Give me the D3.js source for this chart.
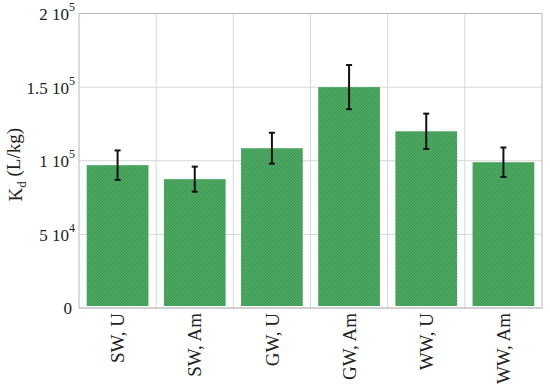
<!DOCTYPE html>
<html>
<head>
<meta charset="utf-8">
<script src="https://cdn.jsdelivr.net/npm/d3@7"></script>
<style>
  body { margin: 0; background: #fff; }
  svg text { font-family: "Liberation Serif", "Times New Roman", serif; fill: #222; }
</style>
</head>
<body>
<div id="chart"></div>
<script>
var categories = ["SW, U", "SW, Am", "GW, U", "GW, Am", "WW, U", "WW, Am"];
var values = [97000, 87500, 108500, 150000, 120000, 99000];
var errors = [10000, 8500, 10500, 15000, 12000, 10000];
var yTicks = [0, 50000, 100000, 150000, 200000];
var yTickBase = ["0", "5 10", "1 10", "1.5 10", "2 10"];
var yTickExp = ["", "4", "5", "5", "5"];

var svgW = 550, svgH = 391;
var margin = { top: 13.5, right: 8, bottom: 83, left: 79 },
    w = svgW - margin.left - margin.right,
    h = svgH - margin.top - margin.bottom;

var svg = d3.select("#chart").append("svg").attr("width", svgW).attr("height", svgH);

var defs = svg.append("defs");
var pat = defs.append("pattern").attr("id", "checker").attr("patternUnits", "userSpaceOnUse")
  .attr("width", 3).attr("height", 3);
pat.append("rect").attr("width", 3).attr("height", 3).attr("fill", "#62ba76");
pat.append("rect").attr("width", 1.5).attr("height", 1.5).attr("fill", "#2c8a43");
pat.append("rect").attr("x", 1.5).attr("y", 1.5).attr("width", 1.5).attr("height", 1.5).attr("fill", "#2c8a43");

var xScale = d3.scaleBand().domain(categories).range([0, w]).padding(0);
var yScale = d3.scaleLinear().domain([0, 200000]).range([h, 0]);

var g = svg.append("g").attr("transform", "translate(" + margin.left + "," + margin.top + ")");

// grid
g.selectAll(".hgrid").data(yTicks).enter().append("line").attr("class", "hgrid")
  .attr("x1", 0).attr("x2", w)
  .attr("y1", function (d) { return yScale(d); }).attr("y2", function (d) { return yScale(d); })
  .attr("stroke", "#d6d6d6").attr("stroke-width", 1);

g.selectAll(".vgrid").data(categories.slice(1)).enter().append("line").attr("class", "vgrid")
  .attr("x1", function (d) { return xScale(d); }).attr("x2", function (d) { return xScale(d); })
  .attr("y1", 0).attr("y2", h)
  .attr("stroke", "#d6d6d6").attr("stroke-width", 1);

// bars
var bw = xScale.bandwidth();
g.selectAll(".bar").data(categories).enter().append("rect").attr("class", "bar")
  .attr("x", function (d) { return xScale(d) + bw * 0.1; })
  .attr("width", bw * 0.8)
  .attr("y", function (d, i) { return yScale(values[i]); })
  .attr("height", function (d, i) { return h - yScale(values[i]) - 2; })
  .attr("fill", "url(#checker)");

// error bars
var eb = g.selectAll(".err").data(categories).enter().append("g").attr("class", "err")
  .attr("stroke", "#111").attr("stroke-width", 2);
eb.append("line")
  .attr("x1", function (d) { return xScale(d) + bw / 2; }).attr("x2", function (d) { return xScale(d) + bw / 2; })
  .attr("y1", function (d, i) { return yScale(values[i] + errors[i]); })
  .attr("y2", function (d, i) { return yScale(values[i] - errors[i]); });
eb.append("line")
  .attr("x1", function (d) { return xScale(d) + bw / 2 - 3; }).attr("x2", function (d) { return xScale(d) + bw / 2 + 3; })
  .attr("y1", function (d, i) { return yScale(values[i] + errors[i]); })
  .attr("y2", function (d, i) { return yScale(values[i] + errors[i]); });
eb.append("line")
  .attr("x1", function (d) { return xScale(d) + bw / 2 - 3; }).attr("x2", function (d) { return xScale(d) + bw / 2 + 3; })
  .attr("y1", function (d, i) { return yScale(values[i] - errors[i]); })
  .attr("y2", function (d, i) { return yScale(values[i] - errors[i]); });

// frame
g.append("rect").attr("x", 0).attr("y", 0).attr("width", w).attr("height", h)
  .attr("fill", "none").attr("stroke", "#b8b8b8").attr("stroke-width", 1);

// y axis labels
var yAxis = d3.axisLeft(yScale).tickValues(yTicks).tickSize(0).tickPadding(0).tickFormat("");
var ya = g.append("g").attr("id", "y-axis").call(yAxis);
ya.select(".domain").remove();
ya.selectAll(".tick").each(function (d, i) {
  var t = d3.select(this).append("text").attr("x", yTickExp[i] ? -4 : -7).attr("y", 0)
    .attr("dy", "0.35em").attr("text-anchor", "end").attr("font-size", "17px").attr("fill", "#222");
  t.append("tspan").text(yTickBase[i]);
  if (yTickExp[i]) {
    t.append("tspan").attr("font-size", "12px").attr("dy", "-0.75em").text(yTickExp[i]);
  }
});

// x axis labels
var xAxis = d3.axisBottom(xScale).tickSize(0).tickPadding(0);
var xa = g.append("g").attr("id", "x-axis").attr("transform", "translate(0," + h + ")").call(xAxis);
xa.select(".domain").remove();
xa.selectAll(".tick text")
  .attr("font-size", "19px").attr("fill", "#222")
  .attr("font-family", "Liberation Serif, Times New Roman, serif")
  .attr("transform", "rotate(-90)")
  .attr("text-anchor", "end")
  .attr("x", -5).attr("y", 0).attr("dy", "0.35em");

// y title
var yt = svg.append("text").attr("transform", "translate(22," + (margin.top + h / 2 + 4) + ") rotate(-90)")
  .attr("text-anchor", "middle").attr("font-size", "19px");
yt.append("tspan").text("K");
yt.append("tspan").attr("font-size", "13px").attr("dy", "0.3em").text("d");
yt.append("tspan").attr("dy", "-0.3em").text(" (L/kg)");
</script>
</body>
</html>
